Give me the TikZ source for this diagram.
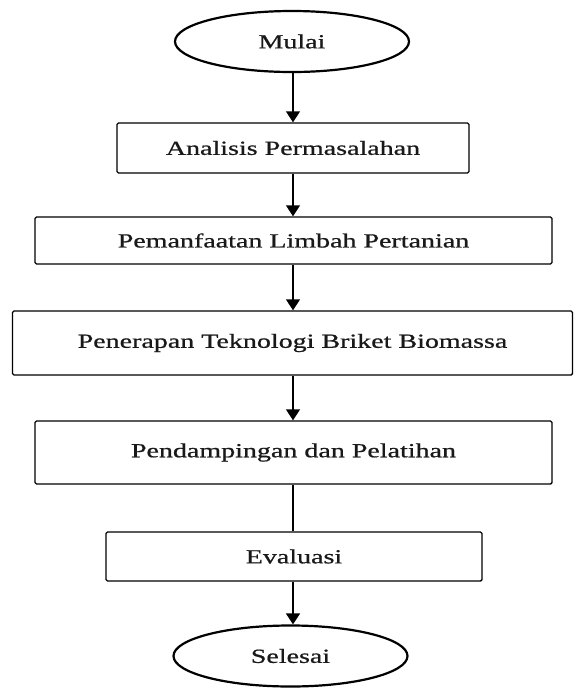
\documentclass[tikz,border=0pt]{standalone}
\usepackage{fontspec}
\setmainfont[FakeStretch=1.4,FakeBold=0.8]{Liberation Serif}
\usetikzlibrary{shapes.geometric,arrows.meta}
\begin{document}
\begin{tikzpicture}[x=1pt,y=-1pt,
  every node/.style={font=\fontsize{20}{24}\selectfont, inner sep=0pt, text=black!90},
  term/.style={ellipse, draw, line width=2.2pt, minimum width=234pt, minimum height=61pt},
  proc/.style={rectangle, draw, line width=1.4pt, rounded corners=1.5pt},
  flow/.style={draw, line width=1.4pt, -{Triangle[width=14pt,length=11pt]}},
  plain/.style={draw, line width=1.4pt}]
\useasboundingbox (0,0) rectangle (574,689);
\node[term] (start) at (292,41.5) {Mulai};
\node[proc, minimum width=352pt, minimum height=50pt] (b1) at (293,148) {Analisis Permasalahan};
\node[proc, minimum width=517pt, minimum height=47pt] (b2) at (293.5,240.5) {Pemanfaatan Limbah Pertanian};
\node[proc, minimum width=560pt, minimum height=64pt] (b3) at (292.5,343) {Penerapan Teknologi Briket Biomassa};
\node[proc, minimum width=517pt, minimum height=63pt] (b4) at (293.5,452.5) {Pendampingan dan Pelatihan};
\node[proc, minimum width=376pt, minimum height=49pt] (b5) at (294,556.5) {Evaluasi};
\node[term] (end) at (290.5,656) {Selesai};
\draw[flow] (start.south -| 293,0) -- (b1.north -| 293,0);
\draw[flow] (b1.south -| 293,0) -- (b2.north -| 293,0);
\draw[flow] (b2.south -| 293,0) -- (b3.north -| 293,0);
\draw[flow] (b3.south -| 293,0) -- (b4.north -| 293,0);
\draw[plain] (b4.south -| 293,0) -- (b5.north -| 293,0);
\draw[flow] (b5.south -| 293,0) -- (end.north -| 293,0);
\end{tikzpicture}
\end{document}
